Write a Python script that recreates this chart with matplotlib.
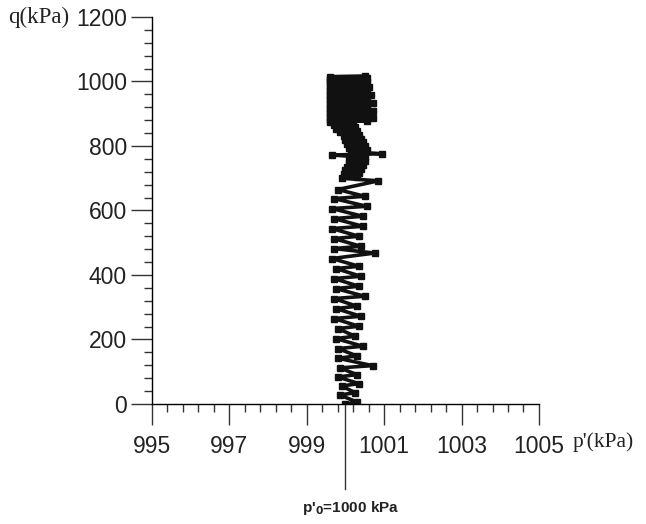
import matplotlib.pyplot as plt

# stress path: mean effective stress p' and deviator q (kPa)
# lower zig-zag part (q up to ~690)
p_low = [1000.00, 1000.30, 999.85, 1000.25, 999.90, 1000.35, 999.80, 1000.30,
         999.85, 1000.70, 999.80, 1000.30, 999.80, 1000.45, 999.75, 1000.25,
         999.80, 1000.35, 999.70, 1000.40, 999.75, 1000.30, 999.70, 1000.50,
         999.75, 1000.35, 999.70, 1000.40, 999.75, 1000.35, 999.65, 1000.75,
         999.70, 1000.40, 999.70, 1000.35, 999.65, 1000.45, 999.70, 1000.45,
         999.65, 1000.55, 999.70, 1000.50, 999.80, 1000.85]
q_low = [0, 6, 28, 35, 56, 63, 84, 91,
         112, 119, 142, 149, 172, 179, 203, 210,
         234, 241, 265, 272, 296, 303, 327, 334,
         358, 365, 389, 396, 420, 427, 451, 468,
         482, 489, 513, 520, 544, 551, 575, 582,
         606, 613, 637, 644, 665, 692]
# curved band (q ~700 to ~870)
p_mid = [999.90, 1000.30, 999.95, 1000.35, 1000.00, 1000.40, 1000.05, 1000.45,
         1000.10, 1000.50, 1000.10, 1000.50, 999.65, 1000.95, 1000.15, 1000.55,
         1000.10, 1000.50, 1000.05, 1000.45, 1000.00, 1000.40, 999.95, 1000.35,
         999.85, 1000.30, 999.75, 1000.25, 999.70, 1000.20]
q_mid = [700, 705, 712, 717, 724, 729, 736, 741,
         748, 753, 760, 765, 772, 776, 782, 787,
         794, 799, 806, 811, 818, 823, 830, 835,
         842, 847, 854, 859, 866, 870]
# dense block near failure (q ~870 to ~1017)
p_top = [999.60, 1000.55, 999.60, 1000.70, 999.60, 1000.50, 999.60, 1000.55,
         999.60, 1000.70, 999.60, 1000.50, 999.60, 1000.55, 999.60, 1000.70,
         999.60, 1000.50, 999.60, 1000.55, 999.60, 1000.65, 999.60, 1000.50,
         999.60, 1000.55, 999.60, 1000.60, 999.60, 1000.50, 999.60, 1000.55,
         999.60, 1000.50, 999.60, 1000.55, 999.60, 1000.50]
q_top = [874, 878, 882, 886, 890, 894, 898, 902,
         906, 910, 914, 918, 922, 926, 930, 934,
         938, 942, 946, 950, 954, 958, 962, 966,
         970, 974, 978, 982, 986, 990, 994, 998,
         1002, 1006, 1009, 1012, 1015, 1017]

x_major = [995, 997, 999, 1001, 1003, 1005]
x_minor = [995.4, 995.8, 996.2, 996.6, 997.4, 997.8, 998.2, 998.6, 999.4, 999.8,
           1000.2, 1000.6, 1001.4, 1001.8, 1002.2, 1002.6, 1003.4, 1003.8, 1004.2, 1004.6]
y_major = [0, 200, 400, 600, 800, 1000, 1200]
y_minor = [v for v in range(0, 1201, 40) if v % 200]

p = p_low + p_mid + p_top
q = q_low + q_mid + q_top

fig = plt.figure(figsize=(6.46, 5.24), dpi=100)
ax = fig.add_axes([0.2353, 0.229, 0.599, 0.7386])

ax.plot(p, q, color='#111111', lw=2.6, marker='s', ms=5, mec='#111111', mfc='#111111')

ax.set_xlim(995, 1005)
ax.set_ylim(0, 1200)
ax.spines['top'].set_visible(False)
ax.spines['right'].set_visible(False)
ax.spines['left'].set_linewidth(1.0)
ax.spines['bottom'].set_linewidth(1.0)

ax.set_xticks(x_major)
ax.set_xticks(x_minor, minor=True)
ax.set_yticks(y_major)
ax.set_yticks(y_minor, minor=True)
ax.tick_params(which='major', direction='out', length=15, width=1.0, labelsize=16.5,
               color='#333333', labelcolor='#222222')
ax.tick_params(which='minor', direction='out', length=6, width=1.0, color='#333333')
ax.tick_params(axis='x', which='major', pad=7)
ax.tick_params(axis='y', which='major', pad=3)
for lab in ax.get_xticklabels() + ax.get_yticklabels():
    lab.set_family('Liberation Sans')

fig.text(0.012, 0.967, 'q(kPa)', family='Liberation Serif', fontsize=16.5, va='center', ha='left',
         color='#222222')
fig.text(0.887, 0.157, "p'(kPa)", family='Liberation Serif', fontsize=15.5, va='center', ha='left',
         color='#222222')

# reference line for initial mean effective stress
ax.plot([1000, 1000], [0, -265], color='#333333', lw=1.0, clip_on=False)
fig.text(0.543, 0.03, "p'$_\\mathbf{0}$=1000 kPa", family='Liberation Sans', fontsize=11,
         fontweight='bold', ha='center', va='center', color='#222222')

fig.savefig('out.png', dpi=100)
